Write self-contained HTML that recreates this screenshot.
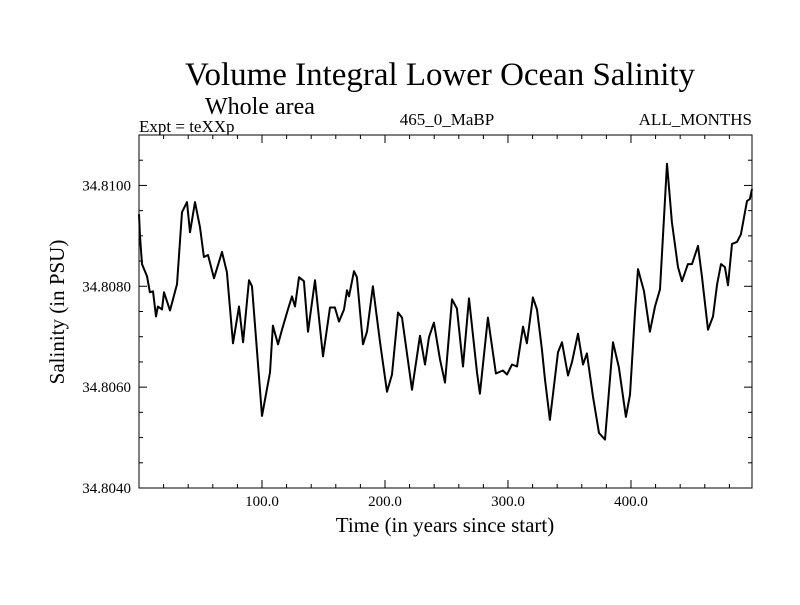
<!DOCTYPE html>
<html><head><meta charset="utf-8"><style>
body{margin:0;background:#fff;}
svg text{font-family:"Liberation Serif",serif;fill:#000;}
</style></head><body>
<svg id="chart" width="800" height="600">
<text x="440" y="85" font-size="33" text-anchor="middle" textLength="510" lengthAdjust="spacingAndGlyphs">Volume Integral Lower Ocean Salinity</text>
<text x="205" y="114" font-size="24">Whole area</text>
<text x="139" y="132" font-size="17">Expt = teXXp</text>
<text x="447" y="125" font-size="17" text-anchor="middle">465_0_MaBP</text>
<text x="752" y="125" font-size="17" text-anchor="end">ALL_MONTHS</text>
<text x="445" y="532" font-size="21" text-anchor="middle">Time (in years since start)</text>
<text transform="translate(64,312) rotate(-90)" font-size="21" text-anchor="middle">Salinity (in PSU)</text>
<g id="axes"></g>
<path id="line" fill="none" stroke="#000" stroke-width="2" stroke-linejoin="round"/>
</svg>
<script>
const years=[0,0.8,2.4,6.5,8.9,11.4,13.8,15.4,18.7,20.3,25.2,30.9,35,39,41.5,45.5,49.6,52.8,56.1,61,67.5,71.5,76.4,81.3,84.6,89.4,91.9,100,106.5,108.9,113,116.3,121.1,124.4,126.8,130.1,134.1,137.4,143.1,149.6,155.3,159.3,162.6,166.7,169.1,170.7,174.8,177.2,182.1,185.4,190.2,195.9,201.6,205.7,210.6,213.8,222,228.5,232.5,235.8,239.8,244.7,248.8,254.5,258.5,263.4,268.3,274.8,277.2,283.7,290.2,295.9,299.2,303.3,307.3,312.2,315.4,320.3,323.6,327.6,330.1,334.1,340.7,343.9,348.8,352,356.9,361,364.2,369.1,374,378.9,385.4,390.2,395.9,399.2,403.3,405.7,410.6,415.4,419.5,423.6,429.3,433.3,438.2,441.5,446.3,449.6,454.5,457.7,462.6,466.7,470,473.2,476.4,478.9,482.1,486.2,489.4,494.3,496.7,498.4];
const salinity=[34.80943,34.80899,34.80844,34.80820,34.80788,34.80790,34.80740,34.80760,34.80754,34.80788,34.80752,34.80804,34.80947,34.80967,34.80907,34.80967,34.80917,34.80858,34.80862,34.80816,34.80868,34.80828,34.80687,34.80760,34.80689,34.80812,34.80800,34.80543,34.80629,34.80722,34.80685,34.80714,34.80754,34.80780,34.80760,34.80818,34.80810,34.80710,34.80812,34.80661,34.80758,34.80758,34.80730,34.80754,34.80792,34.80780,34.80830,34.80818,34.80685,34.80710,34.80800,34.80691,34.80591,34.80625,34.80748,34.80738,34.80595,34.80702,34.80645,34.80699,34.80728,34.80655,34.80609,34.80774,34.80756,34.80641,34.80776,34.80629,34.80587,34.80738,34.80627,34.80633,34.80625,34.80645,34.80641,34.80720,34.80687,34.80778,34.80754,34.80675,34.80615,34.80535,34.80669,34.80689,34.80623,34.80649,34.80706,34.80645,34.80667,34.80581,34.80509,34.80496,34.80689,34.80639,34.80541,34.80585,34.80748,34.80834,34.80790,34.80710,34.80760,34.80794,34.81043,34.80927,34.80838,34.80810,34.80844,34.80844,34.80880,34.80820,34.80714,34.80740,34.80804,34.80844,34.80838,34.80802,34.80884,34.80888,34.80903,34.80969,34.80973,34.80993];
const xTicks=[100,200,300,400];
const xTickLabels=["100.0","200.0","300.0","400.0"];
const yTicks=[34.804,34.806,34.808,34.810];
const yTickLabels=["34.8040","34.8060","34.8080","34.8100"];
const L=139,R=752,T=135,B=488,X0=0,X1=498.4,Y0=34.804,Y1=34.811;
const sx=v=>L+(v-X0)/(X1-X0)*(R-L);
const sy=v=>B-(v-Y0)/(Y1-Y0)*(B-T);
const NS="http://www.w3.org/2000/svg";
const ax=document.getElementById('axes');
function ln(x1,y1,x2,y2,name){const e=document.createElementNS(NS,'line');e.setAttribute('x1',x1);e.setAttribute('y1',y1);e.setAttribute('x2',x2);e.setAttribute('y2',y2);e.setAttribute('stroke','#000');e.setAttribute('stroke-width','1');


ax.appendChild(e);}
function tx(x,y,s,anchor,name){const e=document.createElementNS(NS,'text');e.setAttribute('x',x);e.setAttribute('y',y);e.setAttribute('font-size','15');e.setAttribute('text-anchor',anchor);e.textContent=s;


ax.appendChild(e);}
const fr=document.createElementNS(NS,'rect');fr.setAttribute('x',L);fr.setAttribute('y',T);fr.setAttribute('width',R-L);fr.setAttribute('height',B-T);fr.setAttribute('fill','none');fr.setAttribute('stroke','#000');


ax.appendChild(fr);
for(let v=20;v<X1;v+=20){const x=sx(v);const major=v%100===0;const l=major?8:4;ln(x,B,x,B-l,'x-tick');ln(x,T,x,T+l,'x-tick-top');}
for(let v=34.8045;v<Y1;v+=0.0005){const y=sy(v);const major=Math.abs(((v-34.804)/0.002)-Math.round((v-34.804)/0.002))<0.01;const l=major?8:4;ln(L,y,L+l,y,'y-tick');ln(R,y,R-l,y,'y-tick-right');}
xTicks.forEach((v,i)=>tx(sx(v),506,xTickLabels[i],'middle','x-tick-label'));
yTicks.forEach((v,i)=>tx(131,sy(v)+5,yTickLabels[i],'end','y-tick-label'));
document.getElementById('line').setAttribute('d',years.map((y,i)=>(i?'L':'M')+sx(y).toFixed(1)+','+sy(salinity[i]).toFixed(1)).join(''));
</script>
</body></html>
